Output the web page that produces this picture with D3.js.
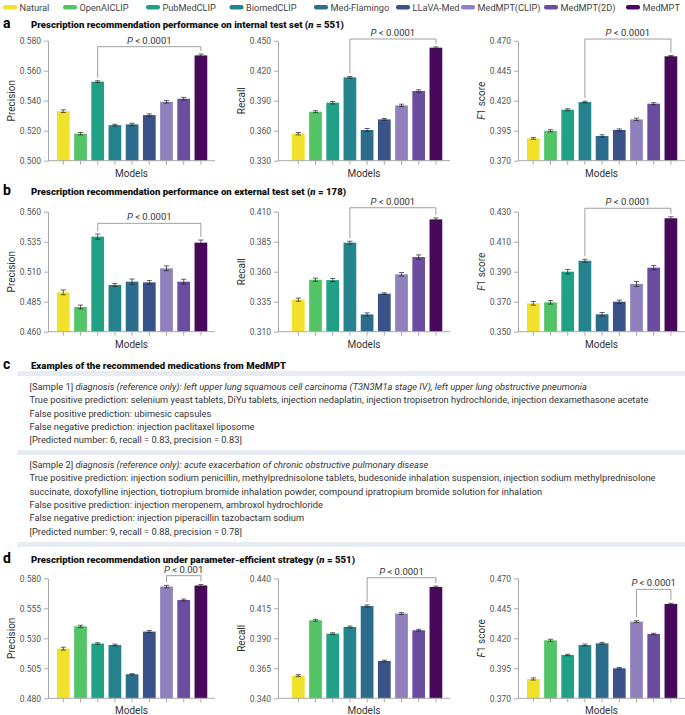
<!DOCTYPE html>
<html>
<head>
<meta charset="utf-8">
<script src="https://cdn.jsdelivr.net/npm/d3@7"></script>
<style>
body { margin: 0; background: #fff; }
svg { font-family: Roboto, 'Liberation Sans', sans-serif; }
</style>
</head>
<body>
<div id="fig"></div>
<script>
var models = ['Natural', 'OpenAICLIP', 'PubMedCLIP', 'BiomedCLIP', 'Med-Flamingo', 'LLaVA-Med', 'MedMPT(CLIP)', 'MedMPT(2D)', 'MedMPT']
var colors = ['#f1e12b', '#53c466', '#20a186', '#25838e', '#2e6c8e', '#395289', '#9081bd', '#6a4d9e', '#48095a']

// a: internal test set (n = 551)
var aPrecision = [0.533, 0.518, 0.5527, 0.5237, 0.5242, 0.5304, 0.5393, 0.5413, 0.5702]
var aPrecisionErr = [0.0009, 0.0008, 0.0006, 0.0006, 0.0008, 0.0008, 0.0009, 0.0009, 0.0009]
var aRecall = [0.357, 0.379, 0.388, 0.4133, 0.3607, 0.3713, 0.3853, 0.3997, 0.443]
var aRecallErr = [0.0012, 0.001, 0.0012, 0.0009, 0.0015, 0.0009, 0.0012, 0.0012, 0.0008]
var aF1 = [0.3886, 0.3949, 0.4125, 0.4189, 0.3906, 0.3956, 0.4044, 0.4175, 0.457]
var aF1Err = [0.0008, 0.0009, 0.0008, 0.0007, 0.001, 0.0009, 0.001, 0.0009, 0.0006]

// b: external test set (n = 178)
var bPrecision = [0.4928, 0.4806, 0.5392, 0.4989, 0.5017, 0.5011, 0.5128, 0.5017, 0.5342]
var bPrecisionErr = [0.002, 0.0016, 0.0022, 0.0012, 0.0022, 0.0015, 0.002, 0.002, 0.0022]
var bRecall = [0.3367, 0.3533, 0.353, 0.3842, 0.3244, 0.3417, 0.3578, 0.3722, 0.4036]
var bRecallErr = [0.0013, 0.0013, 0.0013, 0.0012, 0.0013, 0.0007, 0.0015, 0.0018, 0.0012]
var bF1 = [0.3689, 0.3696, 0.39, 0.3973, 0.3616, 0.37, 0.3818, 0.3927, 0.4256]
var bF1Err = [0.0012, 0.0012, 0.0015, 0.001, 0.0012, 0.0011, 0.0017, 0.0014, 0.001]

// d: parameter-efficient strategy (n = 551)
var dPrecision = [0.5214, 0.54, 0.5256, 0.5244, 0.5, 0.5356, 0.5731, 0.5619, 0.574]
var dPrecisionErr = [0.0012, 0.0009, 0.0007, 0.0007, 0.0005, 0.0009, 0.001, 0.0008, 0.0008]
var dRecall = [0.3589, 0.405, 0.3939, 0.3994, 0.4169, 0.3711, 0.4106, 0.3967, 0.4328]
var dRecallErr = [0.0008, 0.0008, 0.0007, 0.0008, 0.0009, 0.0007, 0.0008, 0.0008, 0.0007]
var dF1 = [0.3861, 0.4183, 0.4061, 0.4144, 0.4158, 0.395, 0.4339, 0.4236, 0.4486]
var dF1Err = [0.0009, 0.0009, 0.0006, 0.0008, 0.0008, 0.0007, 0.0008, 0.0006, 0.0006]

var aPrecisionTicks = [0.5, 0.52, 0.54, 0.56, 0.58]
var aRecallTicks = [0.33, 0.36, 0.39, 0.42, 0.45]
var aF1Ticks = [0.37, 0.395, 0.42, 0.445, 0.47]
var bPrecisionTicks = [0.46, 0.485, 0.51, 0.535, 0.56]
var bRecallTicks = [0.31, 0.335, 0.36, 0.385, 0.41]
var bF1Ticks = [0.35, 0.37, 0.39, 0.41, 0.43]
var dPrecisionTicks = [0.48, 0.505, 0.53, 0.555, 0.58]
var dRecallTicks = [0.34, 0.365, 0.39, 0.415, 0.44]
var dF1Ticks = [0.37, 0.395, 0.42, 0.445, 0.47]

// significance brackets: [from model, to model, p text, bracket level]
var aBrackets = [[2, 8, '< 0.0001', 0.576], [3, 8, '< 0.0001', 0.4517], [3, 8, '< 0.0001', 0.4714]]
var bBrackets = [[2, 8, '< 0.0001', 0.5503], [3, 8, '< 0.0001', 0.4133], [3, 8, '< 0.0001', 0.4323]]
var dBrackets = [[6, 8, '< 0.001', 0.5822], [4, 8, '< 0.0001', 0.4405], [6, 8, '< 0.0001', 0.4608]]

var panelTitles = {
  a: ['Prescription recommendation performance on internal test set (', '551)'],
  b: ['Prescription recommendation performance on external test set (', '178)'],
  d: ['Prescription recommendation under parameter-efficient strategy (', '551)']
}

var sample1 = [
  ['[Sample 1] ', 'diagnosis (reference only): left upper lung squamous cell carcinoma (T3N3M1a stage IV), left upper lung obstructive pneumonia'],
  ['True positive prediction: selenium yeast tablets, DiYu tablets, injection nedaplatin, injection tropisetron hydrochloride, injection dexamethasone acetate'],
  ['False positive prediction: ubimesic capsules'],
  ['False negative prediction: injection paclitaxel liposome'],
  ['[Predicted number: 6, recall = 0.83, precision = 0.83]']
]
var sample2 = [
  ['[Sample 2] ', 'diagnosis (reference only): acute exacerbation of chronic obstructive pulmonary disease'],
  ['True positive prediction: injection sodium penicillin, methylprednisolone tablets, budesonide inhalation suspension, injection sodium methylprednisolone'],
  ['succinate, doxofylline injection, tiotropium bromide inhalation powder, compound ipratropium bromide solution for inhalation'],
  ['False positive prediction: injection meropenem, ambroxol hydrochloride'],
  ['False negative prediction: injection piperacillin tazobactam sodium'],
  ['[Predicted number: 9, recall = 0.88, precision = 0.78]']
]

var svg = d3.select('#fig').append('svg').attr('width', 685).attr('height', 715)

var colX = [48, 278, 518]
var bandStart = [54.7, 289.7, 524.7]
var rowTop = { a: 40.7, b: 211.7, d: 578.3 }
var titleY = { a: 28, b: 195, d: 563 }
var plotH = 120
var step = 17.2

// legend
var legendX = [3, 63, 146, 229.5, 314, 396, 461, 544, 626]
models.forEach(function(m, i) {
  svg.append('rect').attr('x', legendX[i]).attr('y', 5).attr('width', 14).attr('height', 4.5).attr('rx', 2).attr('fill', colors[i])
  svg.append('text').attr('x', legendX[i] + 16.5).attr('y', 10.5).attr('font-size', 9.2).attr('fill', '#444').text(m)
})

// panel titles
function panelTitle(letter, y, parts) {
  svg.append('text').attr('x', 3).attr('y', y).attr('font-size', 14).attr('font-weight', 'bold').text(letter)
  var t = svg.append('text').attr('x', 31).attr('y', y).attr('font-size', 9.6).attr('font-weight', 900).attr('fill', '#111')
  t.append('tspan').text(parts[0])
  if (parts.length > 1) {
    t.append('tspan').attr('font-style', 'italic').text('n')
    t.append('tspan').text(' = ' + parts[1])
  }
}
panelTitle('a', titleY.a, panelTitles.a)
panelTitle('b', titleY.b, panelTitles.b)
panelTitle('c', 369, ['Examples of the recommended medications from MedMPT'])
panelTitle('d', titleY.d, panelTitles.d)

var charts = [
  { row: 'a', col: 0, values: aPrecision, errs: aPrecisionErr, ticks: aPrecisionTicks, label: 'Precision', br: aBrackets[0] },
  { row: 'a', col: 1, values: aRecall, errs: aRecallErr, ticks: aRecallTicks, label: 'Recall', br: aBrackets[1] },
  { row: 'a', col: 2, values: aF1, errs: aF1Err, ticks: aF1Ticks, label: 'F1', br: aBrackets[2] },
  { row: 'b', col: 0, values: bPrecision, errs: bPrecisionErr, ticks: bPrecisionTicks, label: 'Precision', br: bBrackets[0] },
  { row: 'b', col: 1, values: bRecall, errs: bRecallErr, ticks: bRecallTicks, label: 'Recall', br: bBrackets[1] },
  { row: 'b', col: 2, values: bF1, errs: bF1Err, ticks: bF1Ticks, label: 'F1', br: bBrackets[2] },
  { row: 'd', col: 0, values: dPrecision, errs: dPrecisionErr, ticks: dPrecisionTicks, label: 'Precision', br: dBrackets[0] },
  { row: 'd', col: 1, values: dRecall, errs: dRecallErr, ticks: dRecallTicks, label: 'Recall', br: dBrackets[1] },
  { row: 'd', col: 2, values: dF1, errs: dF1Err, ticks: dF1Ticks, label: 'F1', br: dBrackets[2] }
]

charts.forEach(drawChart)

function drawChart(c) {
  var x0 = colX[c.col]
  var top = rowTop[c.row]
  var bottom = top + plotH
  var xPositionScale = d3.scaleBand()
    .domain(models)
    .range([bandStart[c.col], bandStart[c.col] + step * models.length])
    .paddingInner(0.26)
    .paddingOuter(0.13)
  var yPositionScale = d3.scaleLinear()
    .domain([c.ticks[0], c.ticks[c.ticks.length - 1]])
    .range([bottom, top])
  var xEnd = bandStart[c.col] + step * models.length + 5.5
  var cx = function(i) { return xPositionScale(models[i]) + xPositionScale.bandwidth() / 2 }

  var g = svg.append('g')

  g.selectAll('.bar')
    .data(c.values)
    .enter()
    .append('rect')
    .attr('class', 'bar')
    .attr('x', function(d, i) { return xPositionScale(models[i]) })
    .attr('width', xPositionScale.bandwidth())
    .attr('y', function(d) { return yPositionScale(d) })
    .attr('height', function(d) { return bottom - yPositionScale(d) })
    .attr('fill', function(d, i) { return colors[i] })

  // error bars
  c.values.forEach(function(v, i) {
    var e = c.errs[i]
    var yl = yPositionScale(v - e)
    var yh = yPositionScale(v + e)
    g.append('line').attr('x1', cx(i)).attr('x2', cx(i)).attr('y1', yl).attr('y2', yh)
      .attr('stroke', '#222').attr('stroke-width', 0.7)
    ;[yl, yh].forEach(function(yy) {
      g.append('line').attr('x1', cx(i) - 2.6).attr('x2', cx(i) + 2.6).attr('y1', yy).attr('y2', yy)
        .attr('stroke', '#222').attr('stroke-width', 0.7)
    })
  })

  // y axis
  var yAxis = d3.axisLeft(yPositionScale)
    .tickValues(c.ticks)
    .tickFormat(d3.format('.3f'))
    .tickSize(4)
    .tickSizeOuter(0)
    .tickPadding(3)
  var ya = g.append('g').attr('class', 'axis y-axis').attr('transform', 'translate(' + x0 + ',0)').call(yAxis)
  ya.select('.domain').attr('stroke', '#aaa')
  ya.selectAll('.tick line').attr('stroke', '#aaa')
  ya.selectAll('.tick text').attr('font-size', 8.5).attr('fill', '#555').attr('font-family', 'Roboto, sans-serif')

  // x axis
  g.append('line').attr('x1', x0).attr('x2', xEnd).attr('y1', bottom).attr('y2', bottom)
    .attr('stroke', '#aaa').attr('stroke-width', 1)
  models.forEach(function(m, i) {
    g.append('line').attr('x1', cx(i)).attr('x2', cx(i)).attr('y1', bottom).attr('y2', bottom + 4)
      .attr('stroke', '#aaa')
  })
  g.append('text').attr('x', (x0 + xEnd) / 2).attr('y', bottom + 16).attr('text-anchor', 'middle')
    .attr('font-size', 10).attr('fill', '#333').text('Models')

  // y label
  var yl = g.append('text')
    .attr('transform', 'translate(' + (x0 - 37) + ',' + (top + plotH / 2) + ') rotate(-90)')
    .attr('text-anchor', 'middle').attr('dy', '0.35em')
    .attr('font-size', 10).attr('fill', '#333')
  if (c.label === 'F1') {
    yl.append('tspan').attr('font-style', 'italic').text('F')
    yl.append('tspan').text('1 score')
  } else {
    yl.text(c.label)
  }

  // significance bracket
  var b = c.br
  var by = yPositionScale(b[3])
  var xa = cx(b[0])
  var xb = cx(b[1])
  var endA = yPositionScale(c.values[b[0]] + c.errs[b[0]]) - 3
  var endB = yPositionScale(c.values[b[1]] + c.errs[b[1]]) - 3
  g.append('path')
    .attr('d', 'M' + xa + ',' + endA + 'V' + by + 'H' + xb + 'V' + endB)
    .attr('fill', 'none').attr('stroke', '#888').attr('stroke-width', 0.8)
  var pt = g.append('text').attr('x', (xa + xb) / 2).attr('y', by - 3).attr('text-anchor', 'middle')
    .attr('font-size', 9.5).attr('fill', '#333')
  pt.append('tspan').attr('font-style', 'italic').text('P')
  pt.append('tspan').text(' ' + b[2])
}

// panel c: example boxes
var bandColor = '#e7ecf3'
var lineH = 13.3
function band(y) {
  svg.append('rect').attr('x', 17.5).attr('y', y).attr('width', 685 - 17.5).attr('height', 5).attr('fill', bandColor)
}
function sample(lines, startY) {
  lines.forEach(function(parts, i) {
    var t = svg.append('text').attr('x', 29.5).attr('y', startY + i * lineH).attr('font-size', 9.3).attr('fill', '#333')
    t.append('tspan').text(parts[0])
    if (parts.length > 1) t.append('tspan').attr('font-style', 'italic').text(parts[1])
  })
}
band(371)
sample(sample1, 390)
band(450)
sample(sample2, 468)
band(542)
</script>
</body>
</html>
